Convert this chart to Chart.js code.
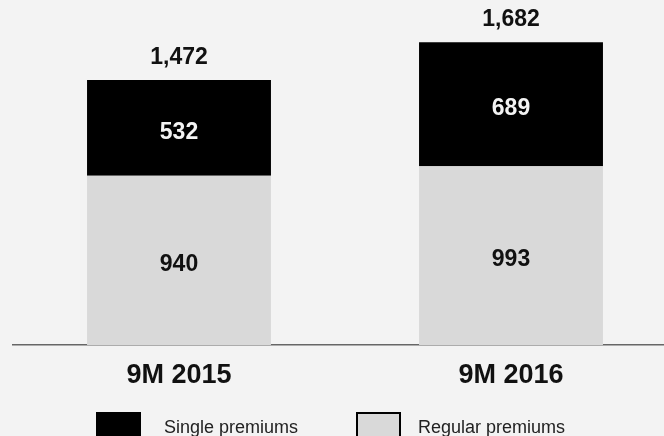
<!DOCTYPE html>
<html>
<head>
<meta charset="utf-8">
<script src="https://cdn.jsdelivr.net/npm/chart.js@4"></script>
<style>
  html, body { margin: 0; padding: 0; background: #f3f3f3; overflow: hidden; }
  canvas { display: block; }
</style>
</head>
<body>
<canvas id="myChart" width="680" height="436"></canvas>
<script>
const categories = ["9M 2015", "9M 2016"];
const regularPremiums = [940, 993];
const singlePremiums = [532, 689];
const seriesNames = ["Single premiums", "Regular premiums"];

const FONT = "'Liberation Sans', Arial, sans-serif";

// labels inside segments and totals on top
const labelsPlugin = {
    id: 'valueLabels',
    afterDatasetsDraw(chart) {
        const ctx = chart.ctx;
        ctx.save();
        ctx.font = 'bold 23px ' + FONT;
        ctx.textAlign = 'center';
        chart.data.datasets.forEach((ds, i) => {
            const meta = chart.getDatasetMeta(i);
            meta.data.forEach((bar, j) => {
                const mid = (bar.y + bar.base) / 2;
                ctx.fillStyle = ds.labelColor;
                ctx.textBaseline = 'middle';
                ctx.fillText(ds.data[j].toLocaleString('en-US'), bar.x, mid + 4.5);
            });
        });
        const topMeta = chart.getDatasetMeta(1);
        topMeta.data.forEach((bar, j) => {
            const total = regularPremiums[j] + singlePremiums[j];
            ctx.fillStyle = '#111';
            ctx.textBaseline = 'alphabetic';
            ctx.fillText(total.toLocaleString('en-US'), bar.x, bar.y - 16);
        });
        ctx.restore();
    }
};

// legend at the bottom
const legendPlugin = {
    id: 'bottomLegend',
    afterDraw(chart) {
        const ctx = chart.ctx;
        ctx.save();
        const items = [
            { text: seriesNames[0], fill: '#000000', x: 97, tx: 164 },
            { text: seriesNames[1], fill: '#d9d9d9', x: 357, tx: 418 }
        ];
        items.forEach(it => {
            ctx.fillStyle = it.fill;
            ctx.fillRect(it.x, 413, 43, 26);
            ctx.strokeStyle = '#000';
            ctx.lineWidth = 2;
            ctx.strokeRect(it.x, 413, 43, 26);
            ctx.fillStyle = '#222';
            ctx.font = '18px ' + FONT;
            ctx.textAlign = 'left';
            ctx.textBaseline = 'alphabetic';
            ctx.fillText(it.text, it.tx, 433);
        });
        ctx.restore();
    }
};

const ctx = document.getElementById('myChart').getContext('2d');
new Chart(ctx, {
    type: 'bar',
    data: {
        labels: categories,
        datasets: [
            {
                label: seriesNames[1],
                data: regularPremiums,
                backgroundColor: '#d9d9d9',
                labelColor: '#111',
                barPercentage: 0.554,
                categoryPercentage: 1
            },
            {
                label: seriesNames[0],
                data: singlePremiums,
                backgroundColor: '#000000',
                labelColor: '#f3f3f3',
                barPercentage: 0.554,
                categoryPercentage: 1
            }
        ]
    },
    options: {
        responsive: false,
        animation: false,
        layout: {
            padding: { left: 13, right: 3, top: 0, bottom: 30.6 }
        },
        plugins: {
            legend: { display: false },
            tooltip: { enabled: false }
        },
        scales: {
            x: {
                stacked: true,
                grid: { display: false, drawTicks: false },
                border: { display: true, color: '#666', width: 1.5 },
                ticks: {
                    color: '#111',
                    padding: 14,
                    font: { family: FONT, size: 27, weight: 'bold' }
                }
            },
            y: {
                stacked: true,
                display: false,
                min: 0,
                max: 1917
            }
        }
    },
    plugins: [labelsPlugin, legendPlugin]
});
</script>
</body>
</html>
